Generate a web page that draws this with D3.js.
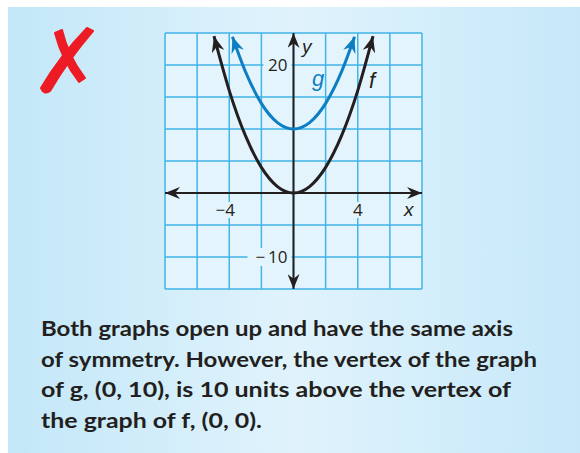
<!DOCTYPE html>
<html>
<head>
<meta charset="utf-8">
<script src="https://cdn.jsdelivr.net/npm/d3@7"></script>
<style>
  html, body { margin: 0; padding: 0; background: #fff; }
  svg { display: block; }
</style>
</head>
<body>
<div id="chart"></div>
<script>
// grid lines (data units)
const xGrid = [-8, -6, -4, -2, 0, 2, 4, 6, 8];
const yGrid = [-15, -10, -5, 0, 5, 10, 15, 20, 25];
// tick labels that are printed
const xLabels = [-4, 4];
const yLabels = [-10, 20];

// points
const fX = [-4.95, -4, -3, -2, -1, 0, 1, 2, 3, 4, 4.95];
const fY = [24.5, 16, 9, 4, 1, 0, 1, 4, 9, 16, 24.5];
const gX = [-3.8, -3, -2, -1, 0, 1, 2, 3, 3.8];
const gY = [24.4, 19, 14, 11, 10, 11, 14, 19, 24.4];

const textLines = [
  "Both graphs open up and have the same axis",
  "of symmetry. However, the vertex of the graph",
  "of g, (0, 10), is 10 units above the vertex of",
  "the graph of f, (0, 0)."
];
const textWidths = [472, 496, 470, 221];

const width = 580, height = 453;
const blue = "#0e7ec3", black = "#231f20", gridColor = "#41b5e8";

const svg = d3.select("#chart").append("svg")
    .attr("width", width)
    .attr("height", height);

const defs = svg.append("defs");
const grad = defs.append("linearGradient").attr("id", "panelGrad")
    .attr("x1", "0%").attr("x2", "100%").attr("y1", "0%").attr("y2", "0%");
grad.append("stop").attr("offset", "0%").attr("stop-color", "#c3e7f8");
grad.append("stop").attr("offset", "50%").attr("stop-color", "#e0f3fc");
grad.append("stop").attr("offset", "100%").attr("stop-color", "#c6e8f9");

function addMarker(id, color, len, half) {
  defs.append("marker")
      .attr("id", id)
      .attr("viewBox", `${-len} ${-half} ${len + 1} ${half * 2}`)
      .attr("refX", 0).attr("refY", 0)
      .attr("markerUnits", "userSpaceOnUse")
      .attr("markerWidth", len + 1).attr("markerHeight", half * 2)
      .attr("orient", "auto-start-reverse")
    .append("path")
      .attr("d", `M0,0 L${-len},${-half} L${-len * 0.68},0 L${-len},${half} Z`)
      .attr("fill", color);
}
addMarker("arrAxis", black, 15, 6);
addMarker("arrF", black, 16, 6.5);
addMarker("arrG", blue, 16, 6.5);

// background panel
svg.append("rect")
    .attr("x", 8).attr("y", 7)
    .attr("width", width - 8).attr("height", height - 7)
    .attr("fill", "url(#panelGrad)");

// red X, two brush strokes
const xMark = svg.append("g").attr("fill", "#ed1c24").attr("stroke", "#ed1c24")
    .attr("stroke-width", 2).attr("stroke-linejoin", "round");
xMark.append("path").attr("d", "M55,33 L62,30 Q68,56 85,78 L79,82 Q62,60 55,33 Z");
xMark.append("path").attr("d", "M87,28 L93,31 Q68,60 50,91 Q44,95 41,88 Q60,56 87,28 Z");

const x = d3.scaleLinear().domain([-8, 8]).range([165, 422]);
const y = d3.scaleLinear().domain([-15, 25]).range([289, 33]);

// graph background
svg.append("rect")
    .attr("x", x(-8)).attr("y", y(25))
    .attr("width", x(8) - x(-8)).attr("height", y(-15) - y(25))
    .attr("fill", "#e3f4fc");

const grid = svg.append("g").attr("stroke", gridColor).attr("stroke-width", 1.5);
grid.selectAll(".vx").data(xGrid).enter().append("line")
    .attr("x1", d => x(d)).attr("x2", d => x(d))
    .attr("y1", y(25)).attr("y2", y(-15));
grid.selectAll(".hy").data(yGrid).enter().append("line")
    .attr("y1", d => y(d)).attr("y2", d => y(d))
    .attr("x1", x(-8)).attr("x2", x(8));

// tick labels with knock-out background
const tickFont = "'Open Sans', 'Liberation Sans', sans-serif";
const xl = svg.selectAll(".xl").data(xLabels).enter().append("g");
xl.append("rect")
    .attr("x", d => x(d) - (d < 0 ? 22 : 8)).attr("y", y(0) + 9)
    .attr("width", d => d < 0 ? 30 : 16).attr("height", 16)
    .attr("fill", "#e3f4fc");
xl.append("text")
    .attr("x", d => x(d) + (d < 0 ? -4 : 0)).attr("y", y(0) + 23)
    .attr("text-anchor", "middle")
    .attr("font-family", tickFont).attr("font-size", 17).attr("fill", black)
    .text(d => d < 0 ? "\u2212" + Math.abs(d) : d);

const yl = svg.selectAll(".yl").data(yLabels).enter().append("g");
yl.append("rect")
    .attr("x", d => x(0) - (d < 0 ? 46 : 30)).attr("y", d => y(d) - 9)
    .attr("width", d => d < 0 ? 44 : 28).attr("height", 18)
    .attr("fill", "#e3f4fc");
yl.append("text")
    .attr("x", x(0) - 6).attr("y", d => y(d) + 6)
    .attr("text-anchor", "end")
    .attr("font-family", tickFont).attr("font-size", 17).attr("fill", black)
    .text(d => d < 0 ? "\u2212\u2009" + Math.abs(d) : d);

// axes
svg.append("line")
    .attr("x1", x(-8)).attr("x2", x(8)).attr("y1", y(0)).attr("y2", y(0))
    .attr("stroke", black).attr("stroke-width", 2)
    .attr("marker-start", "url(#arrAxis)").attr("marker-end", "url(#arrAxis)");
svg.append("line")
    .attr("x1", x(0)).attr("x2", x(0)).attr("y1", y(25)).attr("y2", y(-15))
    .attr("stroke", black).attr("stroke-width", 2)
    .attr("marker-start", "url(#arrAxis)").attr("marker-end", "url(#arrAxis)");

// curves
const line = d3.line().x(d => x(d[0])).y(d => y(d[1])).curve(d3.curveNatural);
svg.append("path")
    .attr("d", line(d3.zip(gX, gY)))
    .attr("fill", "none").attr("stroke", blue).attr("stroke-width", 3)
    .attr("marker-start", "url(#arrG)").attr("marker-end", "url(#arrG)");
svg.append("path")
    .attr("d", line(d3.zip(fX, fY)))
    .attr("fill", "none").attr("stroke", black).attr("stroke-width", 3)
    .attr("marker-start", "url(#arrF)").attr("marker-end", "url(#arrF)");

// axis and curve names
const italic = "'Liberation Sans', Arial, sans-serif";
svg.append("text").attr("x", 302).attr("y", 53)
    .attr("font-family", italic).attr("font-style", "italic").attr("font-size", 19)
    .attr("fill", black).text("y");
svg.append("text").attr("x", 404).attr("y", 216)
    .attr("font-family", italic).attr("font-style", "italic").attr("font-size", 19)
    .attr("fill", black).text("x");
svg.append("text").attr("x", 312).attr("y", 86)
    .attr("font-family", italic).attr("font-style", "italic").attr("font-size", 22)
    .attr("fill", blue).text("g");
svg.append("text").attr("x", 369).attr("y", 88)
    .attr("font-family", italic).attr("font-style", "italic").attr("font-size", 22)
    .attr("fill", black).text("f");

// explanation
svg.selectAll(".note").data(textLines).enter().append("text")
    .attr("x", 41)
    .attr("y", (d, i) => 336 + i * 30.7)
    .attr("font-family", "Lato, 'Open Sans', sans-serif")
    .attr("font-weight", "bold")
    .attr("font-size", 20)
    .attr("fill", black)
    .attr("textLength", (d, i) => textWidths[i])
    .attr("lengthAdjust", "spacingAndGlyphs")
    .text(d => d);
</script>
</body>
</html>
